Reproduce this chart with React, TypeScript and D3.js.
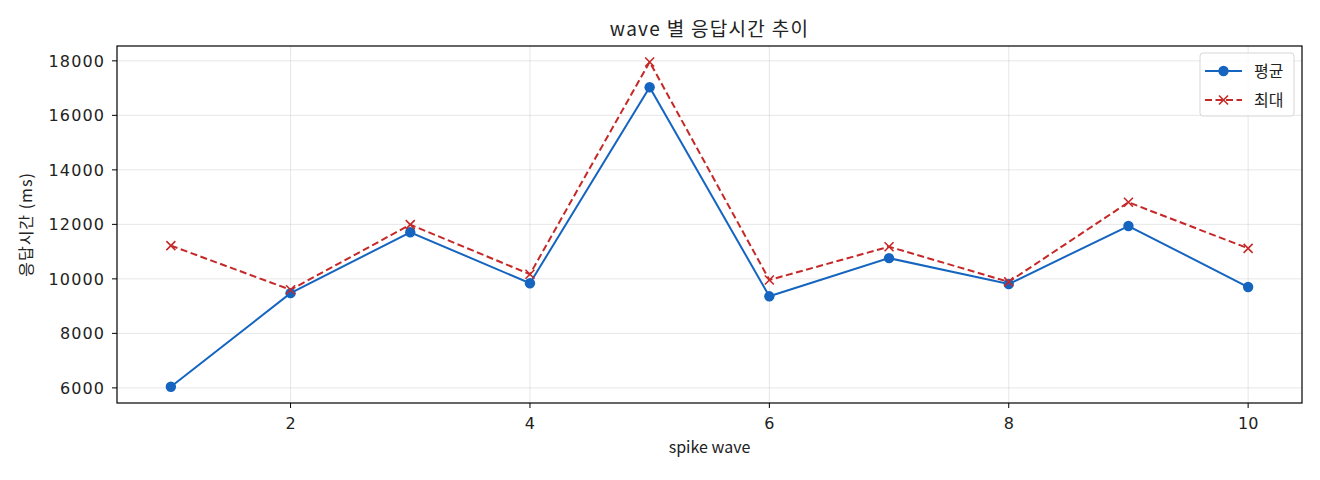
import * as React from 'react';
import * as d3 from 'd3';

const waves = [1, 2, 3, 4, 5, 6, 7, 8, 9, 10];
const avgMs = [6040, 9475, 11710, 9840, 17030, 9360, 10760, 9810, 11940, 9700];
const maxMs = [11220, 9600, 11990, 10170, 17960, 9960, 11180, 9890, 12810, 11120];
const xTicks = [2, 4, 6, 8, 10];
const yTicks = [6000, 8000, 10000, 12000, 14000, 16000, 18000];

const BLUE = '#1565c0';
const RED = '#c62828';
const FONT = '"Noto Sans CJK KR", "Noto Sans", sans-serif';
const NUM_FONT = '"DejaVu Sans", sans-serif';

export default function App() {
  const width = 1320;
  const height = 480;
  const margin = { top: 46, right: 18, bottom: 77, left: 117 };

  const x = d3.scaleLinear().domain([0.55, 10.45]).range([margin.left, width - margin.right]);
  const y = d3.scaleLinear().domain([5445, 18545]).range([height - margin.bottom, margin.top]);

  const line = d3.line<number>().x((_, i) => x(waves[i])).y((d) => y(d));
  const plotW = width - margin.left - margin.right;
  const plotH = height - margin.top - margin.bottom;
  const cx = margin.left + plotW / 2;
  const cy = margin.top + plotH / 2;
  const cross = 'M-4.5,-4.5L4.5,4.5M-4.5,4.5L4.5,-4.5';

  return (
    <svg width={width} height={height} style={{ position: 'absolute', left: 0, top: 0, background: '#fff' }} fontFamily={FONT}>
      {/* 그리드 */}
      {xTicks.map((t) => (
        <line key={'gx' + t} x1={x(t)} x2={x(t)} y1={margin.top} y2={height - margin.bottom} stroke="#b0b0b0" strokeOpacity={0.3} strokeWidth={1} />
      ))}
      {yTicks.map((t) => (
        <line key={'gy' + t} x1={margin.left} x2={width - margin.right} y1={y(t)} y2={y(t)} stroke="#b0b0b0" strokeOpacity={0.3} strokeWidth={1} />
      ))}

      {/* 시리즈 */}
      <path d={line(avgMs) || ''} fill="none" stroke={BLUE} strokeWidth={2} />
      <path d={line(maxMs) || ''} fill="none" stroke={RED} strokeWidth={2} strokeDasharray="7,3.5" />
      {avgMs.map((v, i) => (
        <circle key={'c' + i} cx={x(waves[i])} cy={y(v)} r={5.2} fill={BLUE} />
      ))}
      {maxMs.map((v, i) => (
        <path key={'m' + i} transform={`translate(${x(waves[i])},${y(v)})`} d={cross} stroke={RED} strokeWidth={1.6} />
      ))}

      <rect x={margin.left} y={margin.top} width={plotW} height={plotH} fill="none" stroke="#000" strokeWidth={1.2} />

      {/* x축 */}
      {xTicks.map((t) => (
        <g key={'xt' + t} transform={`translate(${x(t)},${height - margin.bottom})`}>
          <line y2={5} stroke="#000" />
          <text y={26} textAnchor="middle" fontSize={16} fontFamily={NUM_FONT} fill="#222">{t}</text>
        </g>
      ))}
      {/* y축 */}
      {yTicks.map((t) => (
        <g key={'yt' + t} transform={`translate(${margin.left},${y(t)})`}>
          <line x2={-5} stroke="#000" />
          <text x={-12} dy="0.36em" textAnchor="end" fontSize={16} fontFamily={NUM_FONT} letterSpacing={1.1} fill="#222">{t}</text>
        </g>
      ))}

      <text x={cx} y={36} textAnchor="middle" fontSize={19} letterSpacing={1.3} fill="#222">wave 별 응답시간 추이</text>
      <text x={cx} y={453} textAnchor="middle" fontSize={16} fill="#222">spike wave</text>
      <text transform={`translate(32,${cy}) rotate(-90)`} textAnchor="middle" fontSize={16} letterSpacing={1} fill="#222">응답시간 (ms)</text>

      {/* 범례 */}
      <g>
        <rect x={1200} y={53} width={94} height={63} rx={3} fill="#fff" fillOpacity={0.8} stroke="#d6d6d6" />
        <line x1={1205} x2={1242} y1={71} y2={71} stroke={BLUE} strokeWidth={2} />
        <circle cx={1223.5} cy={71} r={5.2} fill={BLUE} />
        <text x={1254} y={71} dy="0.36em" fontSize={16} fill="#222">평균</text>
        <line x1={1205} x2={1242} y1={100} y2={100} stroke={RED} strokeWidth={2} strokeDasharray="7,3.5" />
        <path transform="translate(1223.5,100)" d={cross} stroke={RED} strokeWidth={1.6} />
        <text x={1254} y={100} dy="0.36em" fontSize={16} fill="#222">최대</text>
      </g>
    </svg>
  );
}
